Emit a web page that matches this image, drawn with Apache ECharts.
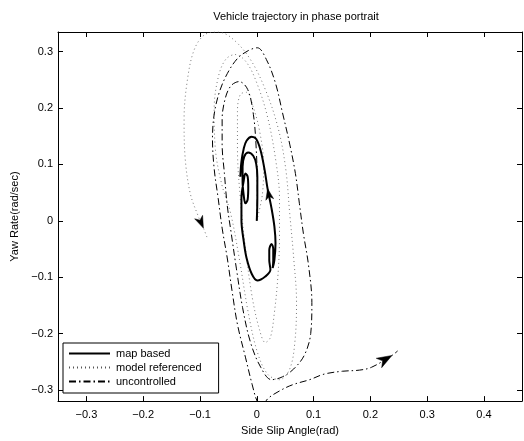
<!DOCTYPE html>
<html>
<head>
<meta charset="utf-8">
<script src="https://cdn.jsdelivr.net/npm/echarts@6/dist/echarts.min.js"></script>
<style>
  html, body { margin: 0; padding: 0; background: #fff; }
  #chart { width: 524px; height: 441px; }
</style>
</head>
<body>
<div id="chart"></div>
<script>
// Axis ticks
const xTicks = [-0.3, -0.2, -0.1, 0, 0.1, 0.2, 0.3, 0.4];
const yTicks = [-0.3, -0.2, -0.1, 0, 0.1, 0.2, 0.3];

// Phase-plane trajectories: [side slip angle (rad), yaw rate (rad/s)]
const mapBased = [
  [0, 0], [0.001, 0.040], [0.001, 0.078], [-0.001, 0.101], [-0.006, 0.115],
  [-0.015, 0.121], [-0.022, 0.114], [-0.025, 0.096], [-0.025, 0.070], [-0.023, 0.045],
  [-0.020, 0.031], [-0.016, 0.038], [-0.015, 0.059], [-0.016, 0.078], [-0.020, 0.084],
  [-0.023, 0.071], [-0.027, 0.040], [-0.027, 0.001], [-0.023, -0.036], [-0.018, -0.066],
  [-0.009, -0.094], [0.001, -0.106], [0.015, -0.099], [0.024, -0.087], [0.022, -0.070],
  [0.022, -0.052], [0.026, -0.041], [0.029, -0.050], [0.029, -0.070], [0.028, -0.084],
  [0.031, -0.070], [0.033, -0.040], [0.031, -0.010], [0.026, 0.022], [0.019, 0.057],
  [0.014, 0.089], [0.007, 0.124], [-0.001, 0.145], [-0.009, 0.149], [-0.018, 0.142],
  [-0.023, 0.128], [-0.027, 0.105], [-0.029, 0.078]
];

const modelReferenced = [
  [0, 0], [0.010, 0.048], [0.012, 0.101], [0.005, 0.159], [-0.006, 0.201],
  [-0.018, 0.228], [-0.029, 0.224], [-0.034, 0.194], [-0.034, 0.128], [-0.029, 0.040],
  [-0.020, -0.048], [-0.008, -0.136], [0.005, -0.194], [0.015, -0.216], [0.024, -0.207],
  [0.031, -0.163], [0.037, -0.101], [0.040, -0.031], [0.040, 0.040], [0.033, 0.110],
  [0.019, 0.184], [0.001, 0.242], [-0.018, 0.281], [-0.038, 0.295], [-0.055, 0.286],
  [-0.068, 0.254], [-0.075, 0.198], [-0.073, 0.128], [-0.062, 0.066], [-0.046, 0.013],
  [-0.031, -0.066], [-0.015, -0.163], [0.001, -0.233], [0.019, -0.272], [0.040, -0.282],
  [0.058, -0.263], [0.067, -0.216], [0.070, -0.145], [0.065, -0.066], [0.058, 0.013],
  [0.051, 0.092], [0.038, 0.163], [0.015, 0.233], [-0.013, 0.289], [-0.045, 0.325],
  [-0.069, 0.335], [-0.092, 0.330], [-0.110, 0.304], [-0.122, 0.251], [-0.128, 0.180],
  [-0.126, 0.110], [-0.117, 0.048], [-0.103, 0.008], [-0.094, -0.013], [-0.087, -0.031]
];

const uncontrolled = [
  [0, 0], [0.001, 0.057], [-0.001, 0.128], [-0.006, 0.189], [-0.016, 0.233],
  [-0.031, 0.247], [-0.045, 0.240], [-0.055, 0.219], [-0.061, 0.180], [-0.061, 0.136],
  [-0.057, 0.084], [-0.052, 0.027], [-0.045, -0.022], [-0.036, -0.084], [-0.025, -0.154],
  [-0.011, -0.216], [0.007, -0.260], [0.026, -0.282], [0.045, -0.277], [0.065, -0.263],
  [0.084, -0.238], [0.095, -0.200], [0.097, -0.145], [0.091, -0.078], [0.082, -0.022],
  [0.075, 0.031], [0.068, 0.084], [0.058, 0.136], [0.045, 0.193], [0.033, 0.244],
  [0.017, 0.286], [0.001, 0.307], [-0.015, 0.302], [-0.034, 0.288], [-0.052, 0.261],
  [-0.066, 0.228], [-0.075, 0.189], [-0.078, 0.145], [-0.075, 0.092], [-0.068, 0.040],
  [-0.061, -0.013], [-0.052, -0.066], [-0.043, -0.128], [-0.034, -0.184], [-0.020, -0.242],
  [-0.008, -0.291], [0.001, -0.321], [0.010, -0.330], [0.019, -0.316], [0.040, -0.302],
  [0.063, -0.291], [0.093, -0.282], [0.119, -0.272], [0.151, -0.267], [0.181, -0.265],
  [0.202, -0.260], [0.238, -0.239], [0.248, -0.231]
];

// Index of the sample where each direction arrow sits
const arrowIndex = { mapBased: 34, modelReferenced: 53, uncontrolled: 56 };

const FONT = "'Liberation Sans', Arial, Helvetica, sans-serif";
const tickFmt = v => (Math.abs(v) < 1e-9 ? '0' : v.toFixed(1).replace('-', '\u2212'));

const traces = [
  { name: 'map based', data: mapBased, arrow: arrowIndex.mapBased, arrowLen: 11,
    lineStyle: { color: '#000', width: 2, type: 'solid' }, z: 4 },
  { name: 'model referenced', data: modelReferenced, arrow: arrowIndex.modelReferenced, arrowLen: 12,
    lineStyle: { color: '#555', width: 0.8, type: [1, 3] }, z: 2 },
  { name: 'uncontrolled', data: uncontrolled, arrow: arrowIndex.uncontrolled, arrowLen: 15,
    lineStyle: { color: '#000', width: 1, type: [7, 3, 1.5, 3] }, z: 3 }
];

// Arrow heads: tip at the chosen sample, pointing away from the previous one
const arrowData = traces.map(t => {
  const p = t.data[t.arrow], q = t.data[t.arrow - 1];
  return [p[0], p[1], q[0], q[1], t.arrowLen];
});

function renderArrow(params, api) {
  const tip = api.coord([api.value(0), api.value(1)]);
  const back = api.coord([api.value(2), api.value(3)]);
  let dx = tip[0] - back[0], dy = tip[1] - back[1];
  const n = Math.hypot(dx, dy) || 1;
  dx /= n; dy /= n;
  const L = api.value(4), W = L * 0.36;
  const bx = tip[0] - dx * L, by = tip[1] - dy * L;
  const nx = -dy, ny = dx;
  const notch = [tip[0] - dx * L * 0.72, tip[1] - dy * L * 0.72];
  return {
    type: 'polygon',
    shape: { points: [tip, [bx + nx * W, by + ny * W], notch, [bx - nx * W, by - ny * W]] },
    style: { fill: '#000', stroke: '#000', lineWidth: 0.5 }
  };
}

const axisLineStyle = { show: true, onZero: false, lineStyle: { color: '#000', width: 1 } };

const option = {
  animation: false,
  backgroundColor: '#fff',
  textStyle: { fontFamily: FONT },
  title: {
    text: 'Vehicle trajectory in phase portrait',
    left: 291, top: 6, textAlign: 'center',
    textStyle: { fontFamily: FONT, fontSize: 11, fontWeight: 'normal', color: '#000' }
  },
  grid: { left: 58, right: 2, top: 32, bottom: 37, containLabel: false },
  legend: {
    data: traces.map(t => t.name),
    orient: 'vertical',
    left: 63, top: 343,
    padding: [5, 17, 6, 5],
    itemGap: 3, itemWidth: 41, itemHeight: 12,
    backgroundColor: '#fff', borderColor: '#000', borderWidth: 1,
    itemStyle: { opacity: 0 },
    textStyle: { fontFamily: FONT, fontSize: 11, color: '#000', padding: [0, 0, 0, 1] },
    selectedMode: false
  },
  xAxis: [
    {
      type: 'value', min: -0.35, max: 0.467, position: 'bottom',
      name: 'Side Slip Angle(rad)', nameLocation: 'middle', nameGap: 20,
      nameTextStyle: { fontFamily: FONT, fontSize: 11, color: '#000' },
      axisLine: axisLineStyle,
      axisTick: { show: true, inside: true, length: 5, customValues: xTicks, lineStyle: { color: '#000' } },
      axisLabel: { show: true, margin: 8, customValues: xTicks, formatter: tickFmt,
                   fontFamily: FONT, fontSize: 11, color: '#000' },
      splitLine: { show: false }
    },
    {
      type: 'value', min: -0.35, max: 0.467, position: 'top',
      axisLine: axisLineStyle,
      axisTick: { show: true, inside: true, length: 5, customValues: xTicks, lineStyle: { color: '#000' } },
      axisLabel: { show: false },
      splitLine: { show: false }
    }
  ],
  yAxis: [
    {
      type: 'value', min: -0.32, max: 0.335, position: 'left',
      name: 'Yaw Rate(rad/sec)', nameLocation: 'middle', nameGap: 36,
      nameTextStyle: { fontFamily: FONT, fontSize: 11, color: '#000' },
      axisLine: axisLineStyle,
      axisTick: { show: true, inside: true, length: 5, customValues: yTicks, lineStyle: { color: '#000' } },
      axisLabel: { show: true, margin: 5, customValues: yTicks, formatter: tickFmt,
                   fontFamily: FONT, fontSize: 11, color: '#000' },
      splitLine: { show: false }
    },
    {
      type: 'value', min: -0.32, max: 0.335, position: 'right',
      axisLine: axisLineStyle,
      axisTick: { show: true, inside: true, length: 5, customValues: yTicks, lineStyle: { color: '#000' } },
      axisLabel: { show: false },
      splitLine: { show: false }
    }
  ],
  series: traces.map(t => ({
    name: t.name,
    type: 'line',
    data: t.data,
    xAxisIndex: 0, yAxisIndex: 0,
    symbol: 'none', showSymbol: false,
    smooth: 0.35,
    clip: true,
    color: '#000',
    lineStyle: t.lineStyle,
    z: t.z
  })).concat([{
    name: 'direction',
    type: 'custom',
    xAxisIndex: 0, yAxisIndex: 0,
    dimensions: ['x', 'y', 'px', 'py', 'len'],
    encode: { x: 0, y: 1 },
    data: arrowData,
    renderItem: renderArrow,
    z: 5
  }])
};

const chart = echarts.init(document.getElementById('chart'), null, { renderer: 'canvas' });
chart.setOption(option);
</script>
</body>
</html>
